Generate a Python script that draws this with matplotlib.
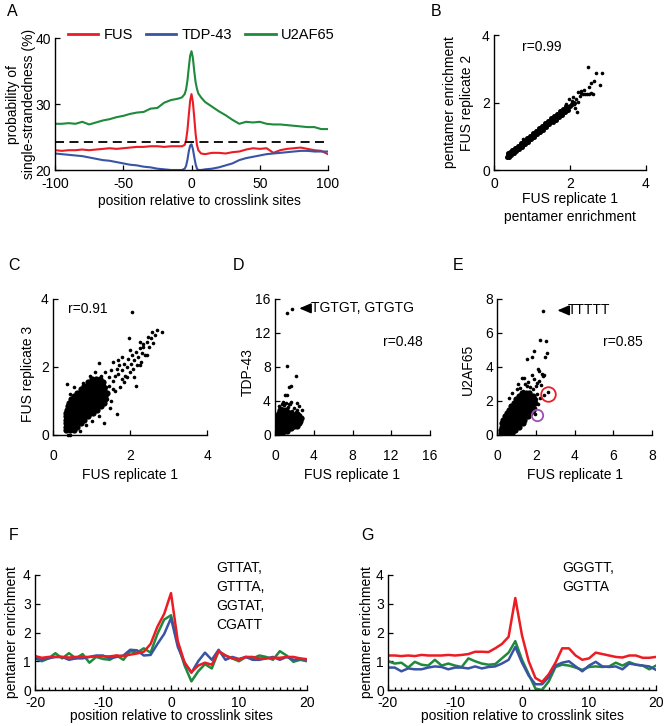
import numpy as np
import matplotlib
matplotlib.use("Agg")
from matplotlib import pyplot as plt
from matplotlib.lines import Line2D

plt.rcParams['font.family'] = ['Liberation Sans', 'DejaVu Sans']
plt.rcParams['font.size'] = 10
plt.rcParams['axes.unicode_minus'] = False

RED = "#ec1c24"
BLUE = "#3a54a4"
GREEN = "#1f8a3b"
PURPLE = "#a04fb0"

# ---- panel A: single-strandedness profiles
a_pos = [-100, -95, -90, -85, -80, -75, -70, -65, -60, -55, -50, -45, -40, -35, -30, -25, -20, -15, -10,
         -7, -5, -4, -3, -2, -1, 0, 1, 2, 3, 4, 5, 7,
         10, 15, 20, 25, 30, 35, 40, 45, 50, 55, 60, 65, 70, 75, 80, 85, 90, 95, 100]
a_fus = [23.0, 22.9, 23.0, 23.0, 23.1, 23.0, 23.1, 23.2, 23.3, 23.2, 23.3, 23.4, 23.5, 23.5, 23.6, 23.6, 23.5, 23.6, 23.6,
         23.6, 23.8, 24.5, 26.0, 28.3, 30.5, 31.5, 30.3, 28.0, 25.5, 23.8, 23.0, 22.5,
         22.4, 22.6, 22.6, 22.5, 22.7, 22.8, 23.1, 23.3, 23.2, 23.3, 22.6, 23.0, 23.2, 23.3, 23.4, 23.2, 23.0, 22.9, 22.4]
a_tdp = [22.5, 22.4, 22.3, 22.2, 22.1, 21.9, 21.7, 21.5, 21.4, 21.2, 21.0, 20.8, 20.7, 20.5, 20.4, 20.2, 20.1, 20.0, 20.0,
         20.0, 20.2, 20.6, 21.5, 22.8, 23.7, 23.9, 23.2, 22.0, 20.9, 20.2, 20.0, 20.0,
         20.1, 20.2, 20.4, 20.7, 21.0, 21.5, 21.8, 22.0, 22.2, 22.4, 22.5, 22.6, 22.7, 22.8, 22.9, 22.9, 22.8, 22.8, 22.8]
a_u2af = [27.0, 27.0, 27.1, 27.0, 27.3, 26.9, 27.2, 27.5, 27.7, 28.0, 28.2, 28.5, 28.7, 28.8, 29.3, 29.4, 30.2, 30.6, 30.8,
          31.0, 31.5, 32.2, 33.5, 35.5, 37.3, 38.0, 37.0, 35.0, 33.3, 32.3, 31.6, 31.0,
          30.3, 29.6, 28.9, 28.3, 27.6, 27.0, 27.3, 27.2, 27.3, 27.0, 26.9, 26.9, 26.8, 26.7, 26.6, 26.5, 26.5, 26.2, 26.2]
a_background = 24.2

# ---- panel B: FUS rep1 vs rep2
b_core_x = [0.34, 0.38, 0.42, 0.46, 0.50, 0.55, 0.60, 0.65, 0.70, 0.75, 0.80, 0.85, 0.90, 0.95, 1.00, 1.05, 1.10,
            1.15, 1.20, 1.25, 1.30, 1.35, 1.40, 1.45, 1.50, 1.55, 1.60, 1.65, 1.70, 1.75, 1.80, 1.85, 1.90, 1.95,
            2.00, 2.05, 2.10,
            0.36, 0.42, 0.48, 0.54, 0.62, 0.70, 0.78, 0.86, 0.94, 1.02, 1.10, 1.18, 1.26, 1.34, 1.42, 1.50, 1.58,
            1.66, 1.74, 1.82, 1.90,
            0.40, 0.46, 0.52, 0.58, 0.66, 0.74, 0.82, 0.90, 0.98, 1.06, 1.14, 1.22, 1.30, 1.38, 1.46, 1.54, 1.62,
            1.70, 1.78, 1.86, 1.94]
b_core_y = [0.40, 0.44, 0.47, 0.51, 0.55, 0.59, 0.64, 0.68, 0.73, 0.77, 0.82, 0.86, 0.91, 0.95, 1.00, 1.05, 1.09,
            1.14, 1.18, 1.23, 1.27, 1.32, 1.36, 1.41, 1.46, 1.50, 1.55, 1.59, 1.64, 1.68, 1.73, 1.77, 1.82, 1.86,
            1.91, 1.96, 2.00,
            0.49, 0.54, 0.60, 0.65, 0.72, 0.80, 0.87, 0.94, 1.02, 1.09, 1.16, 1.23, 1.31, 1.38, 1.45, 1.53, 1.60,
            1.67, 1.74, 1.82, 1.89,
            0.38, 0.44, 0.49, 0.55, 0.62, 0.69, 0.77, 0.84, 0.91, 0.98, 1.06, 1.13, 1.20, 1.28, 1.35, 1.42, 1.49,
            1.57, 1.64, 1.71, 1.79]
b_out_x = [2.05, 2.10, 2.15, 2.20, 2.12, 2.25, 2.30, 2.35, 2.40, 2.45, 2.50, 2.55, 2.60, 2.38, 2.47, 2.68, 2.84,
           2.79, 2.63, 2.54, 2.51, 2.18, 1.93, 1.90, 0.75, 2.30, 2.22, 1.98, 2.08]
b_out_y = [2.05, 1.95, 2.10, 2.02, 1.85, 2.20, 2.28, 2.25, 2.25, 2.26, 2.25, 2.28, 2.25, 2.38, 3.04, 2.87, 2.87,
           2.52, 2.65, 2.57, 2.47, 1.72, 1.75, 1.95, 0.93, 2.35, 2.30, 2.10, 2.15]

# ---- panel C: FUS rep1 vs rep3 (dense core by rows, plus sparse points)
c_row_y = [0.15, 0.25, 0.35, 0.45, 0.55, 0.65, 0.75, 0.85, 0.95, 1.05, 1.15, 1.25, 1.35, 1.45, 1.55, 1.65]
c_row_x = [[0.35, 0.45, 0.55],
           [0.33, 0.43, 0.53, 0.63],
           [0.34, 0.44, 0.54, 0.64, 0.72],
           [0.33, 0.42, 0.52, 0.62, 0.72, 0.80],
           [0.34, 0.44, 0.54, 0.64, 0.74, 0.84, 0.92],
           [0.35, 0.45, 0.55, 0.65, 0.75, 0.85, 0.95, 1.03],
           [0.36, 0.46, 0.56, 0.66, 0.76, 0.86, 0.96, 1.06, 1.13],
           [0.38, 0.48, 0.58, 0.68, 0.78, 0.88, 0.98, 1.08, 1.18, 1.25],
           [0.42, 0.52, 0.62, 0.72, 0.82, 0.92, 1.02, 1.12, 1.22, 1.32],
           [0.47, 0.57, 0.67, 0.77, 0.87, 0.97, 1.07, 1.17, 1.27, 1.36],
           [0.55, 0.65, 0.75, 0.85, 0.95, 1.05, 1.15, 1.25, 1.35],
           [0.62, 0.72, 0.82, 0.92, 1.02, 1.12, 1.22, 1.32, 1.40],
           [0.72, 0.82, 0.92, 1.02, 1.12, 1.22, 1.32],
           [0.80, 0.90, 1.00, 1.10, 1.20, 1.30],
           [0.90, 1.00, 1.10, 1.20, 1.30],
           [1.02, 1.12, 1.22]]
c_out_x = [1.25, 1.35, 1.45, 1.50, 1.55, 1.60, 1.65, 1.70, 1.72, 1.78, 1.80, 1.85, 1.88, 1.92, 1.95, 2.00, 2.02,
           2.05, 2.08, 2.10, 2.15, 2.18, 2.20, 2.25, 2.28, 2.30, 2.35, 2.40, 2.43, 2.45, 2.50, 2.55, 2.56, 2.60,
           2.65, 2.69, 2.83, 1.98, 2.04, 1.20, 0.37, 0.77, 2.15, 1.66, 1.49, 1.32, 1.70, 1.91, 2.26, 1.45, 1.55,
           1.60, 1.40, 1.50, 1.20, 1.00, 0.85, 0.70, 1.10, 0.95, 0.55, 0.45, 1.75, 1.80, 2.00, 1.55, 0.38, 0.45,
           1.85, 2.10, 1.30, 1.38, 2.26, 2.34, 2.47]
c_out_y = [1.75, 1.85, 1.70, 1.90, 1.60, 1.75, 1.95, 1.80, 2.05, 1.65, 1.90, 2.10, 1.75, 2.00, 2.25, 1.85, 2.10,
           2.35, 1.95, 2.20, 2.45, 2.05, 2.30, 2.55, 2.15, 2.40, 2.60, 2.35, 2.35, 2.75, 2.60, 2.85, 3.02, 2.70,
           2.95, 3.09, 3.02, 2.84, 3.61, 2.11, 1.49, 1.52, 1.45, 0.61, 0.78, 0.34, 2.20, 1.72, 2.06, 1.45, 1.35,
           1.30, 1.05, 1.00, 0.55, 0.40, 0.30, 0.12, 1.85, 1.75, 1.40, 1.20, 1.40, 2.30, 2.50, 2.15, 0.00, 0.00,
           1.55, 1.70, 1.50, 1.40, 2.75, 2.68, 2.87]

# ---- panel D: FUS rep1 vs TDP-43
d_row_y = [0.2, 0.5, 0.8, 1.1, 1.4, 1.7, 2.0, 2.3, 2.6, 2.9]
d_row_x = [[0.20, 0.45, 0.70],
           [0.20, 0.45, 0.70, 0.95, 1.20],
           [0.20, 0.45, 0.70, 0.95, 1.20, 1.45, 1.70],
           [0.25, 0.50, 0.75, 1.00, 1.25, 1.50, 1.75, 2.00, 2.25],
           [0.25, 0.50, 0.75, 1.00, 1.25, 1.50, 1.75, 2.00, 2.25, 2.50],
           [0.30, 0.55, 0.80, 1.05, 1.30, 1.55, 1.80, 2.05, 2.30, 2.55],
           [0.30, 0.55, 0.80, 1.05, 1.30, 1.55, 1.80, 2.05, 2.35, 2.65],
           [0.35, 0.60, 0.85, 1.10, 1.35, 1.60, 1.85, 2.10, 2.40],
           [0.40, 0.65, 0.90, 1.15, 1.40, 1.70],
           [0.50, 0.80, 1.10]]
d_out_x = [1.27, 1.72, 1.21, 2.17, 1.60, 1.48, 1.00, 1.27, 0.85, 1.10, 1.40, 0.95, 1.30, 1.55, 2.00, 2.30, 2.75,
           2.60, 2.80, 2.40, 0.60, 0.70, 1.80, 2.20, 1.20, 0.45, 2.24, 2.51, 1.70]
d_out_y = [14.3, 14.8, 8.1, 6.94, 5.8, 5.6, 4.7, 4.75, 3.9, 3.8, 3.7, 3.5, 3.3, 3.6, 3.2, 3.0, 2.9,
           2.3, 2.0, 2.6, 3.2, 3.6, 2.8, 2.7, 3.0, 3.4, 3.78, 3.4, 3.9]

# ---- panel E: FUS rep1 vs U2AF65
e_row_y = [0.1, 0.3, 0.5, 0.7, 0.9, 1.1, 1.3, 1.5, 1.7, 1.9, 2.1, 2.3, 2.5]
e_row_x = [[0.20, 0.38, 0.56, 0.74],
           [0.20, 0.38, 0.56, 0.74, 0.92],
           [0.22, 0.40, 0.58, 0.76, 0.94, 1.10],
           [0.25, 0.43, 0.61, 0.79, 0.97, 1.15, 1.30],
           [0.30, 0.48, 0.66, 0.84, 1.02, 1.20, 1.38],
           [0.38, 0.56, 0.74, 0.92, 1.10, 1.28, 1.46, 1.60],
           [0.48, 0.66, 0.84, 1.02, 1.20, 1.38, 1.56, 1.70],
           [0.60, 0.78, 0.96, 1.14, 1.32, 1.50, 1.68, 1.82],
           [0.72, 0.90, 1.08, 1.26, 1.44, 1.62, 1.80],
           [0.85, 1.03, 1.21, 1.39, 1.57, 1.75, 1.92],
           [0.98, 1.16, 1.34, 1.52, 1.70, 1.88],
           [1.10, 1.28, 1.46, 1.64, 1.82],
           [1.25, 1.45, 1.65]]
e_out_x = [2.34, 2.20, 2.51, 1.91, 2.58, 2.46, 1.51, 1.77, 2.08, 2.17, 2.43, 2.38, 1.25, 1.39, 2.43, 2.63, 1.94,
           1.00, 1.15, 1.30, 1.55, 1.70, 1.85, 2.00, 2.05, 2.15, 2.25, 1.90, 1.60, 2.05, 2.20, 2.10, 1.95, 1.80,
           1.70, 0.75, 0.60, 1.05, 2.30, 1.80, 2.00, 1.40]
e_out_y = [7.29, 5.59, 5.55, 4.94, 4.80, 4.60, 4.45, 4.60, 3.88, 3.76, 3.53, 3.50, 3.37, 3.33, 2.37, 2.53, 1.25,
           2.70, 2.75, 2.60, 2.90, 2.85, 2.70, 2.90, 3.05, 3.20, 2.95, 3.30, 3.10, 2.40, 2.20, 1.80, 1.60, 1.40,
           2.55, 2.50, 2.20, 3.00, 3.60, 3.55, 2.10, 3.00]
e_red_circle = (2.63, 2.42)
e_purple_circle = (2.03, 1.16)

# ---- panels F and G: positional enrichment
pos = list(range(-20, 21))
f_fus = [1.18, 1.12, 1.15, 1.15, 1.15, 1.13, 1.15, 1.15, 1.15, 1.17, 1.17, 1.17, 1.20, 1.18, 1.23, 1.27, 1.33,
         1.60, 2.20, 2.65, 3.37, 1.70, 0.95, 0.62, 0.85, 0.95, 0.88, 1.35, 1.20, 1.10, 1.05, 1.15, 1.15, 1.10,
         1.10, 1.12, 1.12, 1.15, 1.15, 1.10, 1.07]
f_u2af = [1.10, 1.00, 1.10, 1.28, 1.10, 1.28, 1.10, 1.25, 0.95, 1.15, 1.08, 1.05, 1.20, 1.05, 1.35, 1.30, 1.45,
          1.30, 1.95, 2.45, 2.60, 1.60, 0.85, 0.30, 0.65, 0.90, 0.75, 1.35, 1.20, 1.10, 1.00, 1.15, 1.10, 1.20,
          1.15, 1.05, 1.35, 1.20, 0.98, 1.05, 1.00]
f_tdp = [1.10, 1.05, 1.10, 1.15, 1.15, 1.05, 1.10, 1.10, 1.15, 1.20, 1.20, 1.10, 1.15, 1.20, 1.40, 1.38, 1.20,
         1.22, 1.60, 1.95, 2.50, 1.50, 0.95, 0.60, 1.00, 1.30, 1.05, 1.40, 1.05, 1.15, 1.08, 1.15, 1.05, 1.05,
         1.10, 1.15, 1.05, 1.15, 1.05, 1.08, 1.05]
g_fus = [1.20, 1.20, 1.18, 1.20, 1.18, 1.22, 1.20, 1.20, 1.20, 1.22, 1.20, 1.22, 1.25, 1.33, 1.33, 1.32, 1.45,
         1.60, 1.85, 3.20, 1.90, 1.00, 0.42, 0.28, 0.55, 0.95, 1.45, 1.45, 1.20, 1.05, 1.10, 1.30, 1.25, 1.20,
         1.15, 1.13, 1.20, 1.20, 1.12, 1.12, 1.15]
g_u2af = [1.00, 0.92, 0.95, 0.78, 0.98, 0.88, 0.85, 1.05, 0.85, 0.92, 0.85, 0.80, 1.10, 1.00, 0.92, 0.88, 0.90,
          1.10, 1.30, 1.70, 1.05, 0.55, 0.05, 0.00, 0.30, 0.80, 0.88, 0.85, 0.78, 0.70, 0.80, 0.82, 0.80, 0.82,
          0.95, 0.85, 0.97, 0.88, 0.85, 0.72, 0.85]
g_tdp = [0.78, 0.78, 0.65, 0.75, 0.72, 0.72, 0.78, 0.82, 0.80, 0.72, 0.78, 0.78, 0.75, 0.82, 0.75, 0.80, 0.82,
         0.92, 1.05, 1.50, 0.95, 0.50, 0.20, 0.20, 0.45, 0.85, 0.95, 1.00, 0.82, 0.65, 0.85, 0.98, 0.82, 0.80,
         0.82, 0.72, 0.92, 0.88, 0.85, 0.82, 0.70]
f_text = "GTTAT,\nGTTTA,\nGGTAT,\nCGATT"
g_text = "GGGTT,\nGGTTA"

W, H = 666, 726
fig = plt.figure(figsize=(W / 100, H / 100), dpi=100)


def px_axes(x0, y0, x1, y1):
    return fig.add_axes([x0 / W, 1 - y1 / H, (x1 - x0) / W, (y1 - y0) / H])


def style(ax, xpad=4):
    for s in ["top", "right"]:
        ax.spines[s].set_visible(False)
    for s in ["left", "bottom"]:
        ax.spines[s].set_linewidth(1.0)
    ax.tick_params(direction="in", length=3.5, width=0.9, labelsize=10, pad=3)
    ax.tick_params(axis="x", pad=xpad)
    ax.tick_params(which="minor", direction="in", length=2.5, width=0.9)


def rows_to_xy(row_y, row_x):
    xs, ys = [], []
    for y, xr in zip(row_y, row_x):
        xs += xr
        ys += [y] * len(xr)
    return xs, ys


def letter(x, y, s):
    fig.text(x / W, 1 - y / H, s, fontsize=11.5, ha="center", va="center")


# A
ax = px_axes(55, 38, 328, 170)
ax.plot(a_pos, a_fus, color=RED, lw=1.5)
ax.plot(a_pos, a_tdp, color=BLUE, lw=1.5)
ax.plot(a_pos, a_u2af, color=GREEN, lw=1.5)
ax.axhline(a_background, color="k", lw=1.3, ls=(0, (5, 3)))
ax.set_xlim(-100, 100)
ax.set_ylim(20, 40)
ax.set_xticks([-100, -50, 0, 50, 100])
ax.set_yticks([20, 30, 40])
style(ax, xpad=5)
ax.set_xlabel("position relative to crosslink sites")
ax.xaxis.set_label_coords(0.53, -0.18)
ax.set_ylabel("probability of\nsingle-strandedness (%)", va="center")
ax.yaxis.set_label_coords(-0.125, 0.5)
handles = [Line2D([], [], color=c, lw=2) for c in (RED, BLUE, GREEN)]
ax.legend(handles, ["FUS", "TDP-43", "U2AF65"], ncol=3, loc="center", bbox_to_anchor=(0.535, 1.025),
          frameon=False, handlelength=2.1, columnspacing=0.9, handletextpad=0.35, fontsize=10.5,
          borderaxespad=0)
letter(12, 11, "A")

# B
ax = px_axes(494, 35, 646, 170)
ax.plot(b_core_x, b_core_y, "o", color="k", ms=3.6, mec="none")
ax.plot(b_out_x, b_out_y, "o", color="k", ms=2.6, mec="none")
ax.set_xlim(0, 4)
ax.set_ylim(0, 4)
ax.set_xticks([0, 2, 4])
ax.set_yticks([0, 2, 4])
style(ax, xpad=5)
ax.text(0.74, 3.65, "r=0.99", ha="left", va="center")
ax.set_xlabel("FUS replicate 1\npentamer enrichment", linespacing=1.35)
ax.xaxis.set_label_coords(0.5, -0.165)
ax.set_ylabel("pentamer enrichment\nFUS replicate 2", va="center", linespacing=1.25)
ax.yaxis.set_label_coords(-0.235, 0.5)
letter(436, 12, "B")

# C
ax = px_axes(53, 299, 207, 435)
cx, cy = rows_to_xy(c_row_y, c_row_x)
ax.plot(cx, cy, "o", color="k", ms=4.5, mec="none", clip_on=False)
ax.plot(c_out_x, c_out_y, "o", color="k", ms=2.6, mec="none", clip_on=False)
ax.set_xlim(0, 4)
ax.set_ylim(0, 4)
ax.set_xticks([0, 2, 4])
ax.set_yticks([0, 2, 4])
style(ax, xpad=10)
ax.text(0.4, 3.72, "r=0.91", ha="left", va="center")
ax.set_xlabel("FUS replicate 1")
ax.xaxis.set_label_coords(0.5, -0.245)
ax.set_ylabel("FUS replicate 3", va="center")
ax.yaxis.set_label_coords(-0.16, 0.45)
letter(14, 266, "C")

# D
ax = px_axes(275, 299, 430, 435)
dx, dy = rows_to_xy(d_row_y, d_row_x)
ax.plot(dx, dy, "o", color="k", ms=4.5, mec="none")
ax.plot(d_out_x, d_out_y, "o", color="k", ms=2.6, mec="none")
ax.set_xlim(0, 16)
ax.set_ylim(0, 16)
ax.set_xticks([0, 4, 8, 12, 16])
ax.set_yticks([0, 4, 8, 12, 16])
style(ax, xpad=10)
ax.annotate("TGTGT, GTGTG", xy=(2.5, 14.9), xytext=(3.7, 14.9), ha="left", va="center",
            arrowprops=dict(arrowstyle="-|>,head_length=0.7,head_width=0.3", color="k", lw=1.2,
                            shrinkA=0, shrinkB=0))
ax.text(15.2, 10.9, "r=0.48", ha="right", va="center")
ax.set_xlabel("FUS replicate 1")
ax.xaxis.set_label_coords(0.5, -0.245)
ax.set_ylabel("TDP-43", va="center")
ax.yaxis.set_label_coords(-0.175, 0.46)
letter(238, 266, "D")

# E
ax = px_axes(497.5, 299, 652, 435)
ex, ey = rows_to_xy(e_row_y, e_row_x)
ax.plot(ex, ey, "o", color="k", ms=4.5, mec="none")
ax.plot(e_out_x, e_out_y, "o", color="k", ms=2.6, mec="none")
ax.plot(*e_red_circle, "o", mfc="none", mec=RED, ms=10.5, mew=1.3)
ax.plot(*e_purple_circle, "o", mfc="none", mec=PURPLE, ms=8.2, mew=1.3)
ax.set_xlim(0, 8)
ax.set_ylim(0, 8)
ax.set_xticks([0, 2, 4, 6, 8])
ax.set_yticks([0, 2, 4, 6, 8])
style(ax, xpad=10)
ax.annotate("TTTTT", xy=(3.1, 7.33), xytext=(3.65, 7.33), ha="left", va="center",
            arrowprops=dict(arrowstyle="-|>,head_length=0.7,head_width=0.3", color="k", lw=1.2,
                            shrinkA=0, shrinkB=0))
ax.text(7.5, 5.47, "r=0.85", ha="right", va="center")
ax.set_xlabel("FUS replicate 1")
ax.xaxis.set_label_coords(0.5, -0.245)
ax.set_ylabel("U2AF65", va="center")
ax.yaxis.set_label_coords(-0.19, 0.48)
letter(458, 266, "E")

# F and G
for box, fus, tdp, u2af, txt, txt_x, lab, lab_x, ylab_x in [
        ((35, 575, 307, 690), f_fus, f_tdp, f_u2af, f_text, 6.7, "F", 14, -0.085),
        ((388, 575, 656, 690), g_fus, g_tdp, g_u2af, g_text, 6.0, "G", 367, -0.08)]:
    ax = px_axes(*box)
    ax.plot(pos, u2af, color=GREEN, lw=1.8)
    ax.plot(pos, tdp, color=BLUE, lw=1.8)
    ax.plot(pos, fus, color=RED, lw=1.8)
    ax.set_xlim(-20, 20)
    ax.set_ylim(0, 4)
    ax.set_xticks([-20, -10, 0, 10, 20])
    ax.set_xticks(pos, minor=True)
    ax.set_yticks([0, 1, 2, 3, 4])
    style(ax, xpad=4)
    ax.text(txt_x, 4.48, txt, ha="left", va="top", linespacing=1.45)
    ax.set_xlabel("position relative to crosslink sites")
    ax.xaxis.set_label_coords(0.5, -0.165)
    ax.set_ylabel("pentamer enrichment", va="center")
    ax.yaxis.set_label_coords(ylab_x, 0.5)
    letter(lab_x, 535, lab)

fig.savefig("out.png", dpi=100)
